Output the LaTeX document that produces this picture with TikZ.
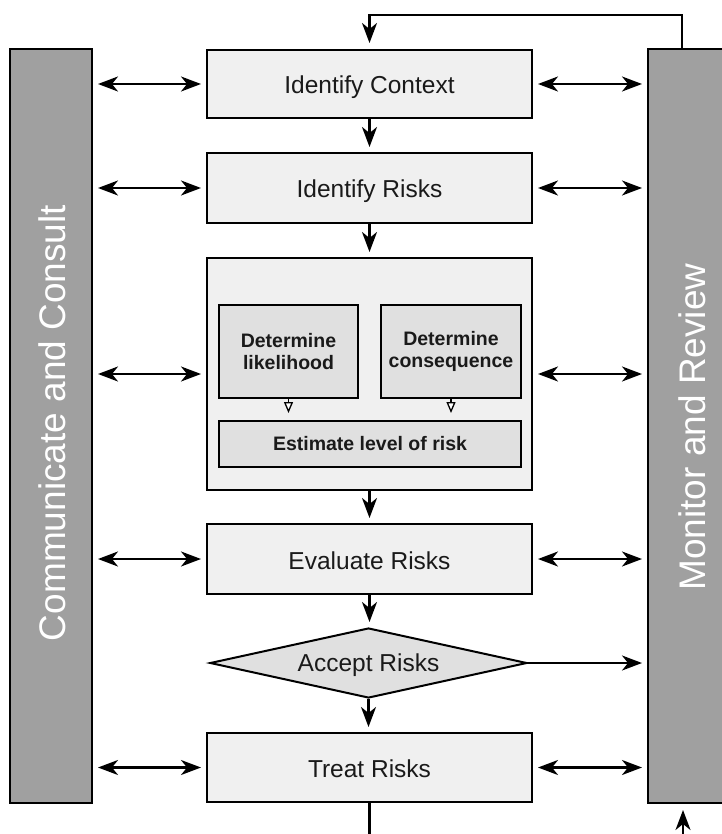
\documentclass[tikz,border=0pt]{standalone}
\usepackage{fontspec}
\setmainfont{Liberation Sans}
\usetikzlibrary{arrows.meta,shapes.geometric,calc}
\definecolor{boxfill}{HTML}{F0F0F0}
\definecolor{innerfill}{HTML}{E0E0E0}
\definecolor{barfill}{HTML}{A0A0A0}
\definecolor{txt}{HTML}{1A1A1A}

\begin{document}
\begin{tikzpicture}[x=1pt,y=-1pt,
  stepbox/.style={draw=black, line width=2pt, fill=boxfill, minimum width=325pt,
    inner sep=0pt, text height=20pt, text depth=0pt,
    font=\fontsize{24.5}{28}\selectfont, text=txt},
  innerbox/.style={draw=black, line width=2pt, fill=innerfill, inner sep=0pt,
    align=center, font=\bfseries\fontsize{19.5}{22}\selectfont, text=txt},
  decision/.style={draw=black, line width=2pt, fill=innerfill, shape=diamond,
    aspect=4.5, minimum width=317pt, minimum height=70pt, inner sep=0pt,
    text height=17.5pt, text depth=0pt,
    font=\fontsize{24.5}{28}\selectfont, text=txt},
  bar/.style={draw=black, line width=2pt, fill=barfill, minimum width=82pt,
    minimum height=754pt, inner sep=0pt},
  bartext/.style={rotate=90, text=white, inner sep=0pt, font=\fontsize{37}{40}\selectfont},
  tip/.tip={Stealth[length=20pt,width=15pt,inset=6pt]},
  arr/.style={line width=2.2pt, -tip, shorten >=5pt},
  dblarr/.style={line width=2.2pt, tip-tip, shorten >=5pt, shorten <=5pt},
  smallarr/.style={line width=1.3pt, -{Stealth[length=11pt,width=9pt,inset=0pt,fill=white]},
    shorten >=7pt},
  plain/.style={line width=2.2pt}
]
\useasboundingbox (0,0) rectangle (721,834);

% side bars
\node[bar] (lb) at (51,426) {};
\node[bar] (rb) at (689,426) {};
\node[bartext] (lbtext) at (52,423) {Communicate and Consult};
\node[bartext] (rbtext) at (692,427) {Monitor and Review};

% main process steps
\node[stepbox, minimum height=68pt] (ctx) at (369.5,84) {Identify Context};
\node[stepbox, minimum height=70pt] (risks) at (369.5,188) {Identify Risks};
\node[stepbox, minimum height=232pt] (big) at (369.5,374) {};
\node[innerbox, minimum width=139pt, minimum height=93pt] (lik) at (288.5,351.5) {Determine\\likelihood};
\node[innerbox, minimum width=140pt, minimum height=93pt] (cons) at (451,351.5) {Determine\\consequence};
\node[innerbox, minimum width=302pt, minimum height=46pt] (est) at (370,444) {Estimate level of risk};
\node[stepbox, minimum height=70pt] (eval) at (369.5,559) {Evaluate Risks};
\node[decision] (acc) at (368.5,663) {Accept Risks};
\node[stepbox, minimum height=69pt] (treat) at (369.5,767.5) {Treat Risks};

% flow down the middle
\draw[arr] (ctx.south) -- (risks.north);
\draw[arr] (risks.south) -- (risks.south |- big.north);
\draw[smallarr] (lik.south) -- (lik.south |- est.north);
\draw[smallarr] (cons.south) -- (cons.south |- est.north);
\draw[arr] (big.south) -- (big.south |- eval.north);
\draw[arr] (eval.south) -- (eval.south |- acc.north);
\draw[arr] (acc.south) -- (acc.south |- treat.north);

% links to the side bars
\foreach \n in {ctx,risks,big,eval,treat}{
  \draw[dblarr] (\n.west -| lb.east) -- (\n.west);
  \draw[dblarr] (\n.east) -- (\n.east -| rb.west);
}
\draw[arr] (acc.east) -- (acc.east -| rb.west);

% feedback loop
\coordinate (rbtop) at ($(rb.north west)+(35,0)$);
\coordinate (looptop) at (rbtop |- 0,15);
\draw[arr, shorten >=6pt] (rbtop) -- (looptop) -| (ctx.north);
\coordinate (treatout) at (370,840);
\draw[plain] (treat.south) -- (treat.south |- treatout);
\coordinate (rbin) at (683,840);
\draw[arr, shorten >=6pt] (rbin) -- (rbin |- rb.south);
\end{tikzpicture}
\end{document}
